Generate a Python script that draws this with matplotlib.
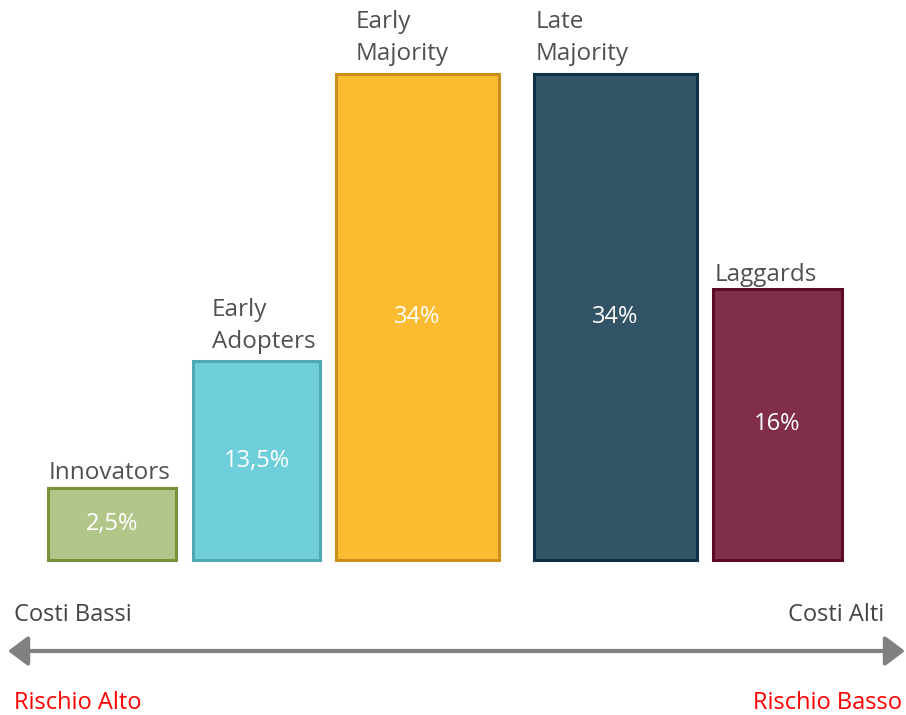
import matplotlib
matplotlib.use("Agg")
import matplotlib.pyplot as plt
from matplotlib.patches import FancyArrowPatch

plt.rcParams['font.family'] = ['Open Sans', 'DejaVu Sans']

# ---- data ----
categories = ["Innovators", "Early\nAdopters", "Early\nMajority", "Late\nMajority", "Laggards"]
value_labels = ["2,5%", "13,5%", "34%", "34%", "16%"]
bar_heights = [72, 199, 486, 486, 271]   # visual heights as drawn in the reference
axis_left = "Costi Bassi"
axis_right = "Costi Alti"
risk_left = "Rischio Alto"
risk_right = "Rischio Basso"

# ---- layout / style ----
fill_colors = ["#b3c689", "#6ecfdb", "#fbbc32", "#335366", "#812f48"]
edge_colors = ["#76923b", "#4fa8b4", "#c9911b", "#103047", "#5c0c26"]
bar_lefts = [48, 193, 336, 534, 713]
bar_widths = [128, 127, 163, 163, 129]
label_lefts = [49, 212, 356, 536, 715]
label_gaps = [9, 13, 14, 14, 8]
baseline = 155

W, H = 906, 715
fig = plt.figure(figsize=(W / 100, H / 100), dpi=100)
ax = fig.add_axes([0, 0, 1, 1])
ax.set_xlim(0, W)
ax.set_ylim(0, H)
ax.axis("off")

ax.bar(bar_lefts, bar_heights, width=bar_widths, bottom=baseline, align="edge",
       color=fill_colors, edgecolor=edge_colors, linewidth=2.2)

for x, w, h, cat, lab, lx, g in zip(bar_lefts, bar_widths, bar_heights, categories,
                                     value_labels, label_lefts, label_gaps):
    ax.text(x + w / 2, baseline + h / 2, lab, color="white", fontsize=17,
            ha="center", va="center")
    ax.text(lx, baseline + h + g, cat, color="#505050", fontsize=17.5,
            ha="left", va="baseline", linespacing=1.42)

ax.text(14, 100, axis_left, color="#444444", fontsize=17, ha="left", va="center")
ax.text(884, 100, axis_right, color="#444444", fontsize=17, ha="right", va="center")
ax.text(14, 12, risk_left, color="#ff0000", fontsize=17, ha="left", va="center")
ax.text(902, 12, risk_right, color="#ff0000", fontsize=17, ha="right", va="center")

arrow = FancyArrowPatch((8, 64), (905, 64), arrowstyle="<|-|>,head_length=8,head_width=6",
                        color="#808080", linewidth=3, mutation_scale=1.5,
                        shrinkA=0, shrinkB=0)
ax.add_patch(arrow)

fig.savefig("out.png", dpi=100)
